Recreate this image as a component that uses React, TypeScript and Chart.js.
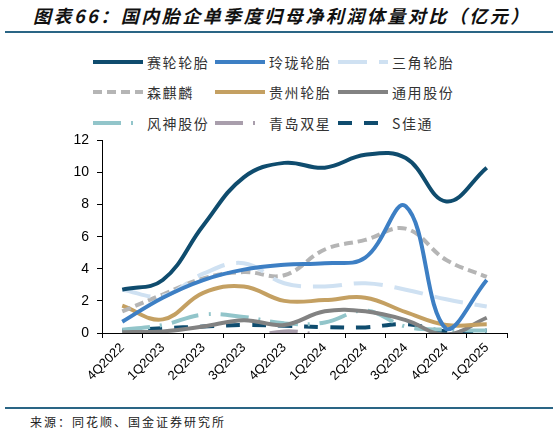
import { useEffect, useRef } from "react";
import { Chart, registerables } from "chart.js";
Chart.register(...registerables);

const quarters = ["4Q2022", "1Q2023", "2Q2023", "3Q2023", "4Q2023", "1Q2024", "2Q2024", "3Q2024", "4Q2024", "1Q2025"];

const sailun = [2.7, 3.3, 6.7, 9.7, 10.6, 10.3, 11.1, 10.9, 8.2, 10.3];
const linglong = [0.7, 2.2, 3.3, 3.95, 4.25, 4.35, 4.7, 7.9, 0.25, 3.3];
const triangle = [2.7, 2.3, 3.7, 4.35, 3.1, 2.9, 3.1, 2.7, 2.1, 1.65];
const sentury = [1.35, 2.4, 3.4, 3.8, 3.6, 5.2, 5.8, 6.5, 4.55, 3.5];
const guizhou = [1.7, 0.85, 2.5, 2.9, 2.0, 2.05, 2.2, 1.3, 0.5, 0.55];
const tongyong = [0.05, 0.1, 0.4, 0.8, 0.5, 1.35, 1.35, 0.8, -0.1, 0.95];
const fengshen = [0.2, 0.5, 1.15, 1.0, 0.6, 0.65, 1.4, 0.4, 0.2, 0.15];
const doublestar = [-1.0, -1.3, -0.8, -0.4, 0.1, -0.15, -0.3, -0.5, -1.2, -0.6];
const giti = [0.15, 0.3, 0.4, 0.5, 0.45, 0.37, 0.35, 0.55, 0.1, 0.15];

const yTicks = [0, 2, 4, 6, 8, 10, 12];

const NAVY = "#0f4c6e";
const BLUE = "#3d7fc4";
const LIGHT = "#cfe1f2";
const GRAY = "#b5b5b5";
const GOLD = "#c4a062";
const DGRAY = "#828282";
const TEAL = "#92c5ca";
const PURPLE = "#a99eac";

const series = [
  { label: "赛轮轮胎", data: sailun, color: NAVY, dash: [] as number[] },
  { label: "玲珑轮胎", data: linglong, color: BLUE, dash: [] },
  { label: "三角轮胎", data: triangle, color: LIGHT, dash: [29, 12] },
  { label: "森麒麟", data: sentury, color: GRAY, dash: [9, 5] },
  { label: "贵州轮胎", data: guizhou, color: GOLD, dash: [] },
  { label: "通用股份", data: tongyong, color: DGRAY, dash: [] },
  { label: "风神股份", data: fengshen, color: TEAL, dash: [28, 10, 2, 10] },
  { label: "青岛双星", data: doublestar, color: PURPLE, dash: [28, 10, 2, 10] },
  { label: "S佳通", data: giti, color: NAVY, dash: [14, 12] },
];

const legendCols = [93, 215, 338];
const legendRows = [62, 92, 123];

function LegendItem({ s, i }: { s: (typeof series)[number]; i: number }) {
  const left = legendCols[i % 3];
  const top = legendRows[Math.floor(i / 3)];
  return (
    <div style={{ position: "absolute", left, top: top - 10, height: 20, display: "flex", alignItems: "center" }}>
      <svg width={50} height={8} style={{ display: "block" }}>
        <line x1={0} y1={4} x2={50} y2={4} stroke={s.color} strokeWidth={4} strokeDasharray={s.dash.length ? s.dash.join(" ") : undefined} />
      </svg>
      <span style={{ marginLeft: 4, fontSize: 14, letterSpacing: 1.6, color: "#333", whiteSpace: "nowrap", lineHeight: "20px" }}>{s.label}</span>
    </div>
  );
}

export default function App() {
  const canvasRef = useRef<HTMLCanvasElement>(null);

  useEffect(() => {
    if (!canvasRef.current) return;
    const ctx = canvasRef.current.getContext("2d");
    if (!ctx) return;

    const chart = new Chart(ctx, {
      type: "line",
      data: {
        labels: quarters,
        datasets: series.map((s) => ({
          label: s.label,
          data: s.data,
          borderColor: s.color,
          backgroundColor: s.color,
          borderWidth: 4,
          borderDash: s.dash,
          tension: 0.4,
          pointRadius: 0,
          fill: false,
        })),
      },
      options: {
        animation: false,
        responsive: true,
        maintainAspectRatio: false,
        layout: { padding: { left: 0, right: 52, top: 9, bottom: 0 } },
        plugins: { legend: { display: false }, tooltip: { enabled: false } },
        scales: {
          x: {
            offset: true,
            grid: { offset: true, drawOnChartArea: false, drawTicks: true, tickLength: 5, color: "#000" },
            border: { color: "#000", width: 1 },
            ticks: { minRotation: 45, maxRotation: 45, autoSkip: false, padding: 2, color: "#000", font: { family: "'Liberation Sans', Arial", size: 13 } },
            afterFit: (s) => { s.height = 67; },
          },
          y: {
            min: 0,
            max: 12,
            afterBuildTicks: (s) => { s.ticks = yTicks.map((v) => ({ value: v })); },
            grid: { drawOnChartArea: false, drawTicks: true, tickLength: 5, color: "#000" },
            border: { color: "#000", width: 1 },
            ticks: { padding: 8, color: "#000", font: { family: "'Liberation Sans', Arial", size: 14 } },
            afterFit: (s) => { s.width = 102; },
          },
        },
      },
    });

    return () => chart.destroy();
  }, []);

  return (
    <div style={{ position: "absolute", left: 0, top: 0, width: 559, height: 435, background: "#fff", fontFamily: "'Noto Sans CJK SC', sans-serif", overflow: "hidden" }}>
      <div style={{ position: "absolute", left: 33, top: 3, fontSize: 18, fontWeight: 700, fontStyle: "italic", letterSpacing: 2.5, color: "#111", whiteSpace: "nowrap", lineHeight: "24px" }}>
        图表66：国内胎企单季度归母净利润体量对比（亿元）
      </div>
      <div style={{ position: "absolute", left: 5, top: 31, width: 548, height: 1.5, background: "#2a6585" }} />
      {series.map((s, i) => (
        <LegendItem key={s.label} s={s} i={i} />
      ))}
      <div style={{ position: "absolute", left: 0, top: 124, width: 559, height: 276 }}>
        <canvas ref={canvasRef} />
      </div>
      <div style={{ position: "absolute", left: 5, top: 407, width: 548, height: 1.5, background: "#2a6585" }} />
      <div style={{ position: "absolute", left: 30, top: 413, fontSize: 12, letterSpacing: 2, color: "#222", whiteSpace: "nowrap", lineHeight: "18px" }}>
        来源：同花顺、国金证券研究所
      </div>
    </div>
  );
}
